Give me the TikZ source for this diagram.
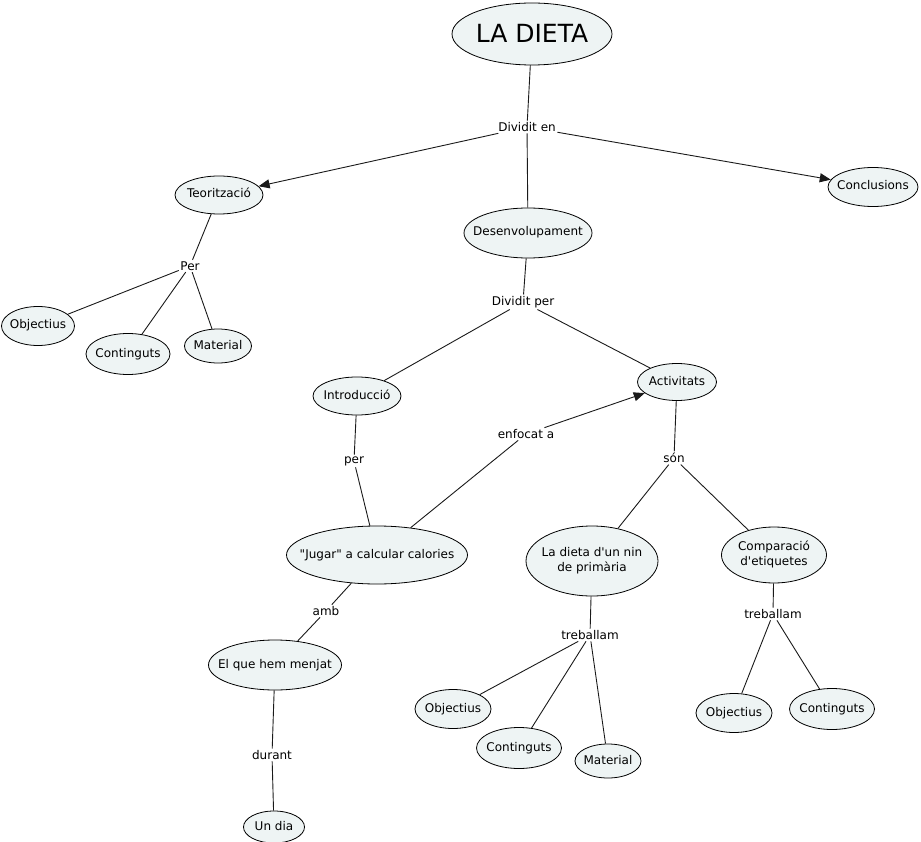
\documentclass[tikz,border=0pt]{standalone}
\usepackage{fontspec}
\setmainfont{DejaVu Sans}[Ligatures=TeXOff]
\usetikzlibrary{arrows.meta,shapes.geometric}
\definecolor{conceptfill}{HTML}{EEF4F4}
\definecolor{linegray}{HTML}{1A1A1A}
\newcommand{\inell}[1]{\makebox[0pt]{\begin{tabular}{@{}c@{}}#1\end{tabular}}}

\begin{document}
\begin{tikzpicture}[x=1pt,y=-1pt,
 concept/.style={ellipse,draw=black,fill=conceptfill,line width=0.8pt,inner sep=0pt,align=center,font=\fontsize{12}{15}\selectfont},
 link/.style={inner sep=1.5pt,font=\fontsize{12}{14}\selectfont},
 conn/.style={draw=linegray,line width=0.9pt},
 arr/.style={conn,-{Triangle[length=11pt,width=9pt]}}]
\useasboundingbox (0,0) rectangle (921,842);

\node[concept,minimum width=160,minimum height=62,font=\fontsize{25}{29}\selectfont] (dieta) at (532,34) {\raisebox{-3pt}[\height][\depth]{\inell{LA DIETA}}};
\node[link] (dividiten) at (527,127) {Dividit en};
\node[concept,minimum width=88,minimum height=38] (teor) at (219,195) {\inell{Teorització}};
\node[concept,minimum width=128,minimum height=50] (desen) at (528,233) {\inell{Desenvolupament}};
\node[concept,minimum width=90,minimum height=39] (concl) at (873,187) {\inell{Conclusions}};

% teoritzacio
\node[link] (per1) at (190,266) {Per};
\node[concept,minimum width=73,minimum height=39] (obj1) at (38,326) {\inell{Objectius}};
\node[concept,minimum width=84,minimum height=41] (cont1) at (128,354) {\inell{Continguts}};
\node[concept,minimum width=67,minimum height=34] (mat1) at (218,346) {\inell{Material}};

% desenvolupament
\node[link] (dividitper) at (523,302) {Dividit per};
\node[concept,minimum width=88,minimum height=38] (intro) at (357,396) {\inell{Introducció}};
\node[concept,minimum width=79,minimum height=37] (activ) at (677,382) {\inell{Activitats}};
\node[link] (per2) at (354,461) {per};
\node[link] (enfocat) at (526,434) {enfocat a};
\node[link] (son) at (674,458) {són};
\node[concept,minimum width=181,minimum height=58] (jugar) at (377,555) {\inell{"Jugar" a calcular calories}};
\node[concept,minimum width=132,minimum height=70] (nin) at (592,561) {\inell{La dieta d'un nin\\de primària}};
\node[concept,minimum width=105,minimum height=56] (compar) at (774,555) {\inell{Comparació\\d'etiquetes}};

\node[link] (amb) at (326,611) {amb};
\node[concept,minimum width=133,minimum height=50] (menjat) at (275,665) {\inell{El que hem menjat}};
\node[link] (durant) at (272,755) {durant};
\node[concept,minimum width=61,minimum height=32] (undia) at (274,827) {\inell{Un dia}};

\node[link] (treb1) at (590,635) {treballam};
\node[concept,minimum width=76,minimum height=39] (obj2) at (453,709) {\inell{Objectius}};
\node[concept,minimum width=85,minimum height=41] (cont2) at (519,748) {\inell{Continguts}};
\node[concept,minimum width=66,minimum height=34] (mat2) at (608,761) {\inell{Material}};

\node[link] (treb2) at (773,614) {treballam};
\node[concept,minimum width=76,minimum height=39] (obj3) at (734,713) {\inell{Objectius}};
\node[concept,minimum width=85,minimum height=41] (cont3) at (832,709) {\inell{Continguts}};

\draw[conn] (dieta) -- (dividiten);
\draw[arr] (dividiten) -- (teor);
\draw[conn] (dividiten) -- (desen);
\draw[arr] (dividiten) -- (concl);

\draw[conn] (teor) -- (per1);
\draw[conn] (per1) -- (obj1);
\draw[conn] (per1) -- (cont1);
\draw[conn] (per1) -- (mat1);

\draw[conn] (desen) -- (dividitper);
\draw[conn] (dividitper) -- (intro);
\draw[conn] (dividitper) -- (activ);
\draw[conn] (intro) -- (per2);
\draw[conn] (per2) -- (jugar);
\draw[conn] (jugar) -- (enfocat);
\draw[arr] (enfocat) -- (activ);
\draw[conn] (activ) -- (son);
\draw[conn] (son) -- (nin);
\draw[conn] (son) -- (compar);

\draw[conn] (jugar) -- (amb);
\draw[conn] (amb) -- (menjat);
\draw[conn] (menjat) -- (durant);
\draw[conn] (durant) -- (undia);

\draw[conn] (nin) -- (treb1);
\draw[conn] (treb1) -- (obj2);
\draw[conn] (treb1) -- (cont2);
\draw[conn] (treb1) -- (mat2);
\draw[conn] (compar) -- (treb2);
\draw[conn] (treb2) -- (obj3);
\draw[conn] (treb2) -- (cont3);
\end{tikzpicture}
\end{document}
